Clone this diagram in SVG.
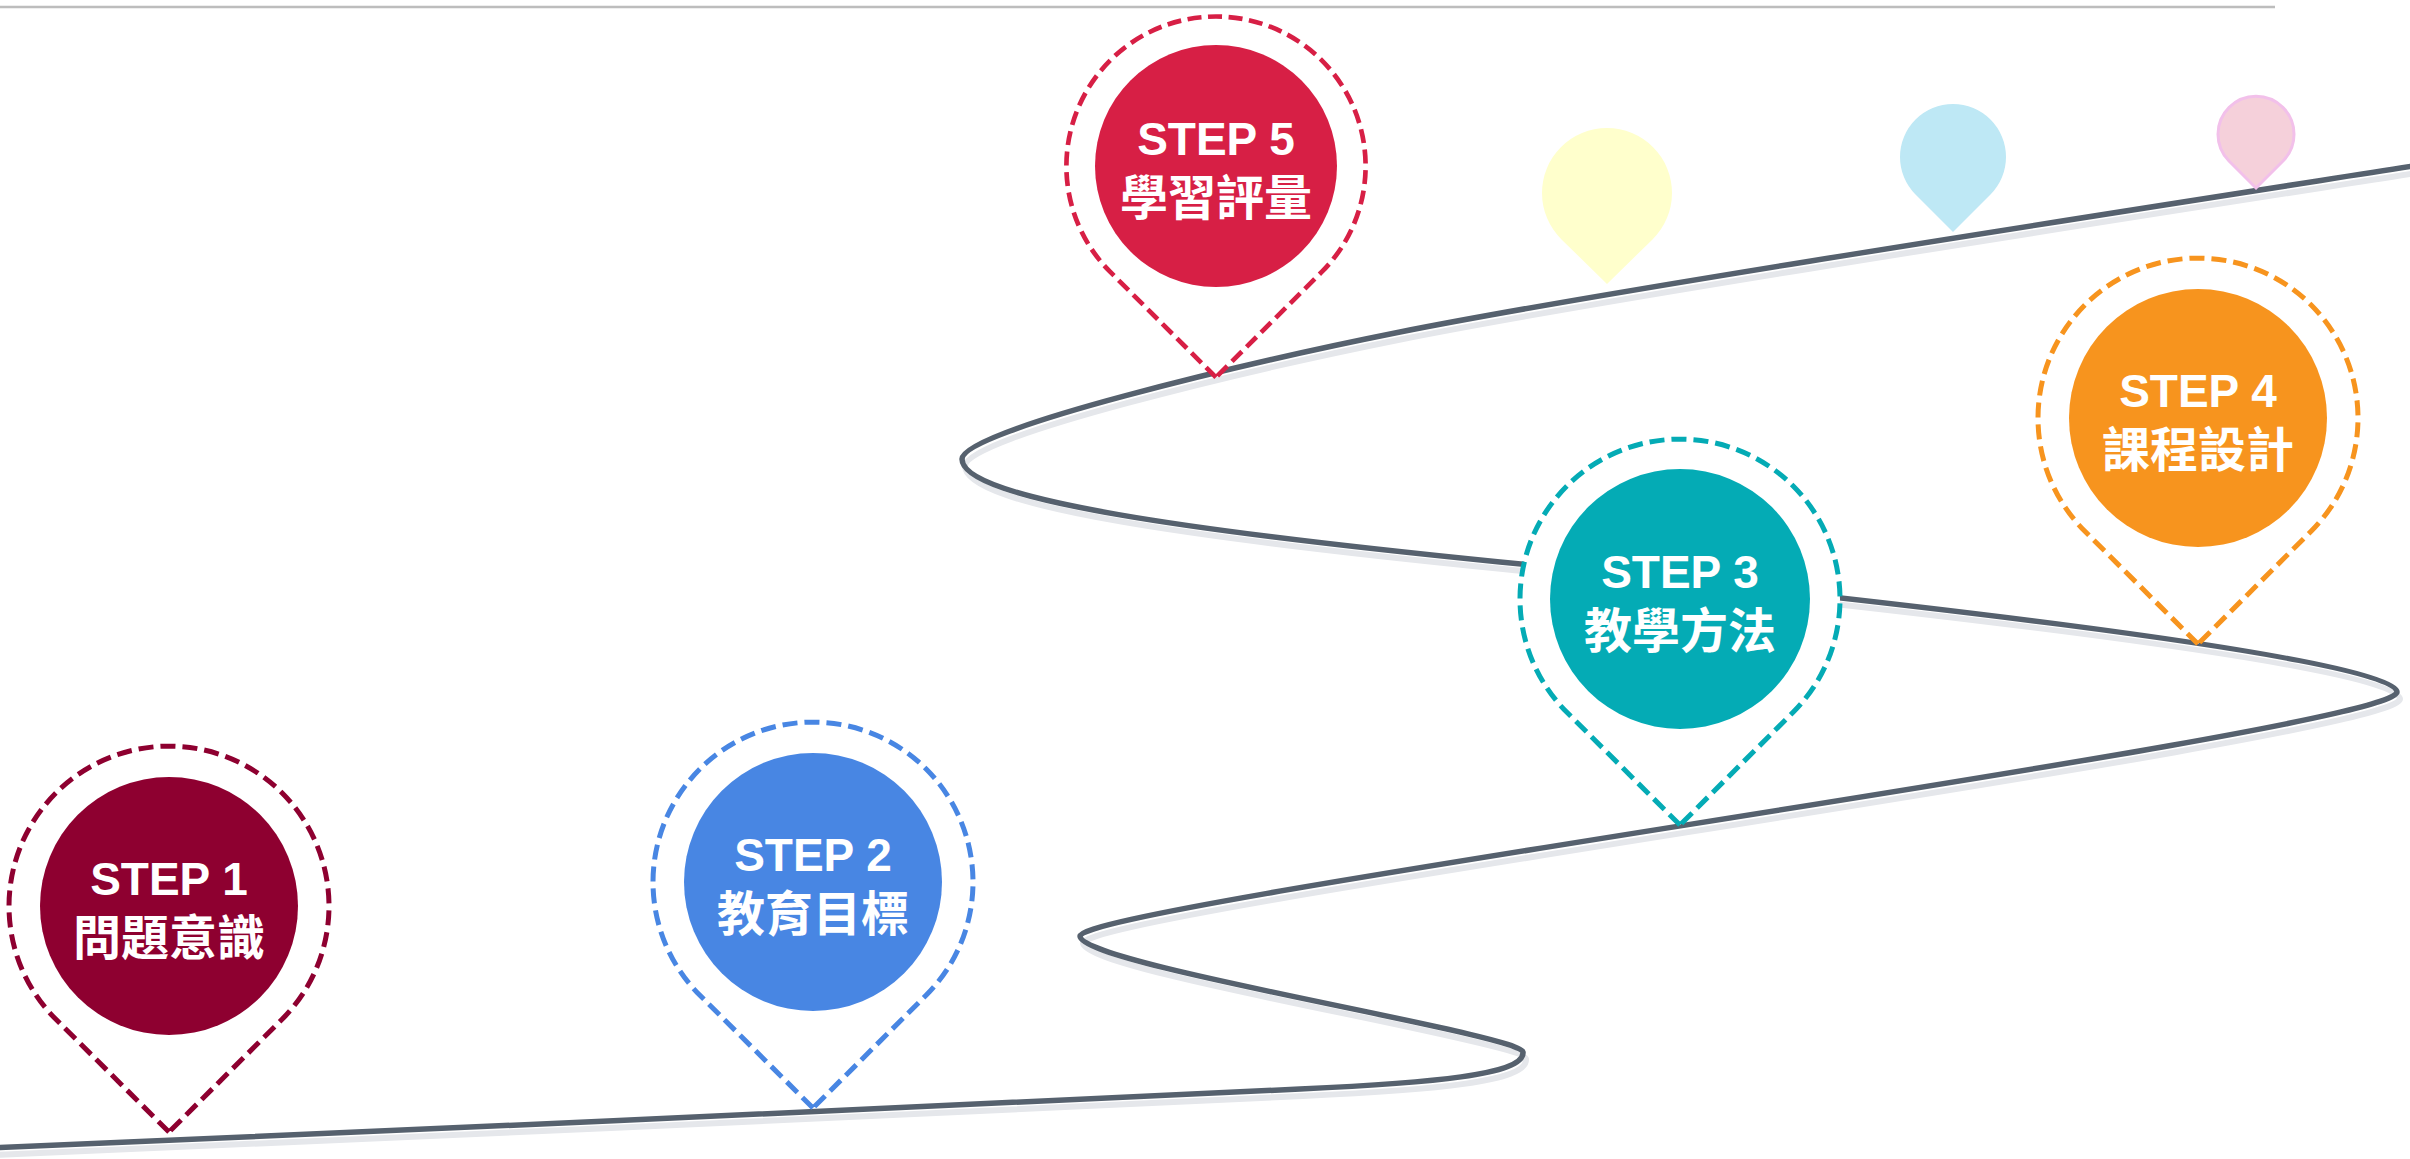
<svg xmlns="http://www.w3.org/2000/svg" xmlns:xlink="http://www.w3.org/1999/xlink" width="2410" height="1159" viewBox="0 0 2410 1159">
  <style>
    .road { fill: none; stroke: #56616E; stroke-width: 5.5; stroke-linecap: round; }
    .shadow { fill: none; stroke: #E5E7EB; stroke-width: 6; stroke-linecap: round; }
    .pin { fill: #FFFFFF; stroke-width: 5; stroke-dasharray: 15 7; stroke-linejoin: miter; }
    .t1 { font-family: "Liberation Sans", Arial, sans-serif; font-weight: bold; font-size: 46px; fill: #FFFFFF; text-anchor: middle; }
    .t2 { font-family: "Noto Sans CJK TC", "Noto Sans CJK SC", sans-serif; font-weight: bold; font-size: 48px; fill: #FFFFFF; text-anchor: middle; }
  </style>
  <defs>
    <path id="pin" d="M0,226 L-113.1,113.3 A160,160 0 1 1 113.1,113.3 Z"/>
    <path id="roadpath" d="M -10,1148 C 400,1131 900,1108 1300,1089 C 1430,1083 1525,1075 1523,1052 C 1521,1034 1080,965 1080,936 C 1080,905 2397,730 2397,692 C 2397,655 1800,592 1500,562 C 1200,532 962,500 962,459 C 962,430 1250,362 1400,332 C 1600,292 2100,215 2420,165"/>
  </defs>

  <line x1="0" y1="7" x2="2275" y2="7" stroke="#BDBDBD" stroke-width="2.5"/>

  <g id="connectors">
    <use xlink:href="#roadpath" href="#roadpath" class="shadow" transform="translate(3,7)"/>
    <use xlink:href="#roadpath" href="#roadpath" class="road"/>
  </g>

  <g id="decor-pins">
    <path d="M1607,284 L1561.5,239.4 A65,65 0 1 1 1652.5,239.4 Z" fill="#FFFFCC"/>
    <path d="M1953,232 L1915.5,194.5 A53,53 0 1 1 1990.5,194.5 Z" fill="#BEE8F5"/>
    <path d="M2256,188 L2229,161 A38,38 0 1 1 2283,161 Z" fill="#F5D0DA" stroke="#F2C0EA" stroke-width="3"/>
  </g>

  <g id="step1">
    <use xlink:href="#pin" href="#pin" class="pin" x="169" y="906" style="stroke:#8E0030"/>
    <circle cx="169" cy="906" r="129" fill="#8E0030"/>
    <text class="t1" x="169" y="895">STEP 1</text>
    <text class="t2" x="169" y="955">問題意識</text>
  </g>

  <g id="step2">
    <use xlink:href="#pin" href="#pin" class="pin" x="813" y="882" style="stroke:#4886E3"/>
    <circle cx="813" cy="882" r="129" fill="#4886E3"/>
    <text class="t1" x="813" y="871">STEP 2</text>
    <text class="t2" x="813" y="931">教育目標</text>
  </g>

  <g id="step3">
    <use xlink:href="#pin" href="#pin" class="pin" x="1680" y="599" style="stroke:#04ABB5"/>
    <circle cx="1680" cy="599" r="130" fill="#04ABB5"/>
    <text class="t1" x="1680" y="588">STEP 3</text>
    <text class="t2" x="1680" y="648">教學方法</text>
  </g>

  <g id="step4">
    <use xlink:href="#pin" href="#pin" class="pin" x="2198" y="418" style="stroke:#F7941E"/>
    <circle cx="2198" cy="418" r="129" fill="#F7941E"/>
    <text class="t1" x="2198" y="407">STEP 4</text>
    <text class="t2" x="2198" y="467">課程設計</text>
  </g>

  <g id="step5">
    <use xlink:href="#pin" href="#pin" class="pin" transform="translate(1216,166) scale(0.935)" style="stroke:#D71F45"/>
    <circle cx="1216" cy="166" r="121" fill="#D71F45"/>
    <text class="t1" x="1216" y="155">STEP 5</text>
    <text class="t2" x="1216" y="215">學習評量</text>
  </g>
</svg>
